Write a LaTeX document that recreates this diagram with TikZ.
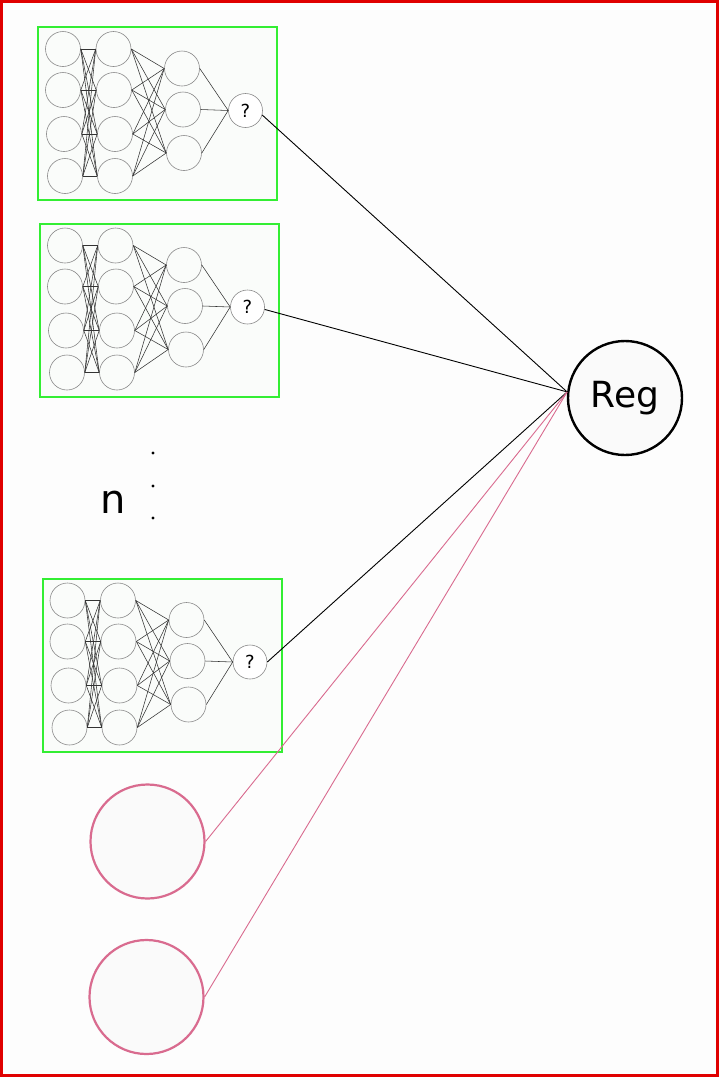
\documentclass[tikz,border=0pt]{standalone}
\usepackage{fontspec}
\setmainfont{DejaVu Sans}
\definecolor{framered}{HTML}{E00000}
\definecolor{boxgreen}{HTML}{33EE33}
\definecolor{boxfill}{HTML}{FAFCFA}
\definecolor{pinkc}{HTML}{D96B8F}
\definecolor{nodegray}{HTML}{8A8A8A}
\definecolor{bgc}{HTML}{FDFDFD}
\definecolor{circfill}{HTML}{FAFAFA}
\tikzset{
  neuron/.style={circle,draw=nodegray,line width=0.6pt,fill=boxfill,minimum size=35pt,inner sep=0pt},
  outneuron/.style={circle,draw=nodegray,line width=0.6pt,fill=white,minimum size=34pt,inner sep=0pt,font=\fontsize{18}{20}\selectfont},
  synapse/.style={draw=black!80,line width=0.55pt},
  netbox/.style={draw=boxgreen,line width=2pt,fill=boxfill},
  link/.style={draw=black,line width=0.9pt},
  pinklink/.style={draw=pinkc,line width=0.9pt},
  pinkcirc/.style={circle,draw=pinkc,line width=2.2pt,fill=circfill,minimum size=114pt,inner sep=0pt},
  regnode/.style={circle,draw=black,line width=2.4pt,fill=circfill,minimum size=114pt,inner sep=0pt,font=\fontsize{36}{40}\selectfont},
}
\newcommand\mynet[3]{%
 \begin{scope}[shift={(#2,#3)}]
  \draw[netbox] (38,27) rectangle (277,200);
  \node[neuron] (#1a1) at (63,49) {};
  \node[neuron] (#1a2) at (63,90) {};
  \node[neuron] (#1a3) at (64,134) {};
  \node[neuron] (#1a4) at (65,176) {};
  \node[neuron] (#1b1) at (113.5,49) {};
  \node[neuron] (#1b2) at (114,90) {};
  \node[neuron] (#1b3) at (115,134) {};
  \node[neuron] (#1b4) at (115,176) {};
  \node[neuron] (#1c1) at (182,68.5) {};
  \node[neuron] (#1c2) at (183,109.5) {};
  \node[neuron] (#1c3) at (184,153) {};
  \node[outneuron] (#1o) at (245.5,110.5) {?};
  \foreach \i in {1,...,4}{\foreach \j in {1,...,4}{\draw[synapse] (#1a\i.east) -- (#1b\j.west);}}
  \foreach \i in {1,...,4}{\foreach \j in {1,2,3}{\draw[synapse] (#1b\i.east) -- (#1c\j.west);}}
  \foreach \j in {1,2,3}{\draw[synapse] (#1c\j.east) -- (#1o.west);}
 \end{scope}}
\begin{document}
\begin{tikzpicture}[x=1pt,y=-1pt]
  \useasboundingbox (0,0) rectangle (719,1077);
  \fill[bgc] (0,0) rectangle (719,1077);
  \draw[framered,line width=2.6pt] (1.5,1.5) rectangle (717.5,1075.5);

  \mynet{n1}{0}{0}
  \mynet{n2}{2}{196.5}
  \mynet{n3}{4.5}{551.5}

  \node[regnode] (reg) at (625,398) {Reg};
  \node[pinkcirc] (p1) at (147.5,841.5) {};
  \node[pinkcirc] (p2) at (146.5,997) {};

  \node[anchor=base,font=\fontsize{40}{44}\selectfont] (nlab) at (113,513) {n};
  \fill (153,453) circle (1.6);
  \fill (153,486) circle (1.6);
  \fill (153,518) circle (1.6);

  \draw[link] (n1o.-15) -- (reg.174);
  \draw[link] (n2o.-8) -- (reg.174);
  \draw[link] (n3o.east) -- (reg.174);
  \draw[pinklink] (p1.east) -- (reg.174);
  \draw[pinklink] (p2.east) -- (reg.174);
\end{tikzpicture}
\end{document}
